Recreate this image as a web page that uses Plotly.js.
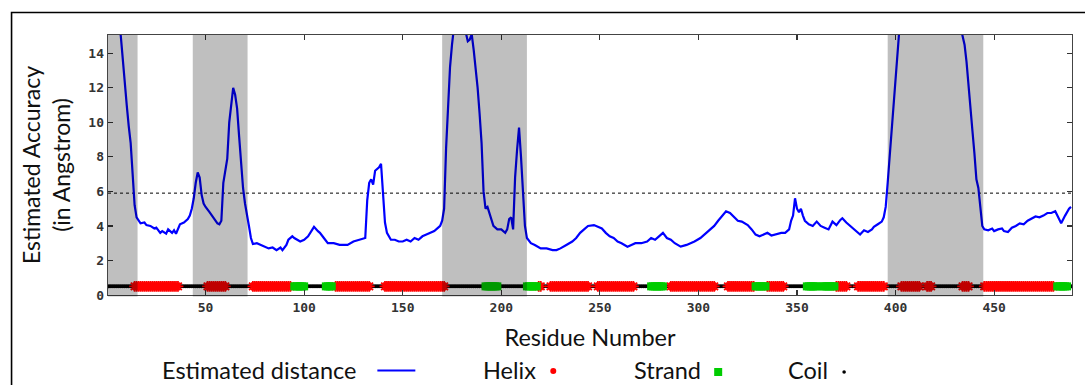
<!DOCTYPE html>
<html>
<head>
<meta charset="utf-8">
<script src="https://cdn.plot.ly/plotly-3.0.1.min.js"></script>
<style>
  html, body { margin: 0; padding: 0; background: #fff; }
  #chart { width: 1085px; height: 385px; }
</style>
</head>
<body>
<div id="chart"></div>
<script>
// ---------- DATA ----------
// Estimated distance (Angstrom) by residue number
const residueNumber = [1,3,5,7,8,9,10,11,12,13,14,15,16,17,19,20,22,24,25,27,28,30,31,33,34,35,37,39,41,42,43,44,45,46,47,48,49,50,52,54,56,57,58,59,60,61,62,63,64,65,66,67,68,69,70,71,72,73,74,76,78,80,82,84,86,88,89,91,92,94,95,98,100,102,105,107,108,110,112,115,118,122,125,128,131,132,133,134,135,136,138,139,140,141,142,144,146,148,150,152,154,156,158,160,162,164,166,168,169,170,171,172,173,174,175,176,178,180,182,183,184,185,186,187,188,189,190,191,192,193,194,195,196,198,200,202,203,204,205,206,207,208,209,210,211,212,213,215,217,220,223,226,228,230,233,236,238,240,242,244,247,249,251,253,255,257,259,261,264,266,268,271,274,276,278,280,282,284,286,288,291,294,296,298,301,303,305,308,310,312,314,316,318,320,322,325,327,329,331,333,335,337,339,342,344,346,347,348,349,350,351,352,353,354,356,358,360,362,364,366,368,370,372,373,375,377,379,381,382,384,386,388,389,391,393,394,395,396,397,398,399,400,401,402,405,410,418,425,430,433,434,435,436,437,438,439,440,441,442,443,444,445,447,449,450,452,454,455,457,459,461,463,465,467,469,471,473,475,477,479,481,482,484,486,488,489];
const estimatedDistance = [20,18,16.5,15,13.5,12.3,11,9.8,8.8,7,5.2,4.5,4.3,4.15,4.2,4.05,4.0,3.85,3.9,3.6,3.7,3.55,3.8,3.6,3.75,3.55,4.1,4.2,4.4,4.6,5.0,5.6,6.5,7.1,6.8,5.8,5.3,5.1,4.8,4.5,4.15,4.1,4.3,6.5,7.3,7.9,10,11,12.0,11.6,10.8,9.2,7.5,6.2,5.3,4.5,4.0,3.3,2.95,3.0,2.9,2.8,2.7,2.75,2.6,2.75,2.6,2.9,3.2,3.4,3.3,3.1,3.2,3.4,3.95,3.7,3.6,3.3,3.0,3.0,2.9,2.9,3.1,3.2,3.3,5.5,6.5,6.7,6.4,7.2,7.4,7.6,5.7,4.2,3.6,3.2,3.2,3.1,3.1,3.2,3.1,3.3,3.2,3.4,3.5,3.6,3.7,3.9,4.0,4.3,5.0,8.5,11.3,13.2,14.5,15.5,16,16,15.2,14.7,14.8,15.1,14.2,13.2,12.0,10.5,8.8,6.0,5.0,5.1,4.7,4.4,4.0,3.8,3.8,3.6,3.8,4.4,4.5,3.8,6.8,8.4,9.7,8.0,6.0,4.0,3.3,3.0,2.9,2.7,2.7,2.6,2.6,2.7,2.9,3.1,3.3,3.6,3.8,4.0,4.05,3.95,3.85,3.6,3.4,3.3,3.1,3.0,2.8,2.9,3.0,3.0,3.1,3.3,3.2,3.4,3.6,3.3,3.2,3.0,2.8,2.9,3.0,3.1,3.3,3.5,3.7,4.0,4.3,4.6,4.85,4.75,4.5,4.3,4.25,4.05,3.8,3.5,3.4,3.5,3.6,3.45,3.5,3.6,3.6,3.8,4.3,4.6,5.6,5.0,4.8,5.0,4.6,4.3,4.1,4.0,4.25,4.0,3.9,3.8,4.25,4.05,4.35,4.45,4.2,4.0,3.85,3.6,3.5,3.75,3.65,3.8,3.95,4.1,4.25,4.5,5.1,6.5,8.0,10,11.3,13.0,14.4,15.5,18,21,22,20,17,15.5,15.0,14.5,13.5,12.0,10.8,9.5,8.2,6.7,6.2,5.0,4.0,3.8,3.75,3.85,3.7,3.8,3.85,3.7,3.65,3.9,4.0,4.15,4.1,4.3,4.45,4.55,4.5,4.6,4.75,4.75,4.85,4.6,4.15,4.6,5.0,5.1];

// Secondary structure segments [first residue, last residue]
const helixSegments  = [[14,36],[51,60],[74,93],[116,133],[141,171],[219,220],[225,244],[249,267],[286,308],[315,328],[335,343],[370,375],[381,394],[403,412],[416,418],[434,437],[445,480]];
const strandSegments = [[95,100],[111,114],[192,198],[213,218],[276,282],[329,334],[355,360],[363,369],[482,487]];
const coilSegments   = [[1,13],[37,50],[61,73],[94,94],[101,110],[115,115],[134,140],[172,191],[199,212],[221,224],[245,248],[268,275],[283,285],[309,314],[344,354],[361,362],[376,380],[395,402],[413,415],[419,433],[438,444],[481,481],[488,489]];
const trackLevel = 0.5;

// Low-accuracy (shaded) regions [start, end]
const shadedRegions = [[0.5,15.5],[43.5,71.3],[170,213],[396,444.5]];
const thresholdValue = 5.9;

const xTickVals = [50,100,150,200,250,300,350,400,450];
const yTickVals = [0,2,4,6,8,10,12,14];

const legendLabels = ['Estimated distance','Helix','Strand','Coil'];

// ---------- BUILD ----------
function expand(segs, withGaps) {
  const xs = [], ys = [];
  segs.forEach(([a,b]) => {
    for (let r = a; r <= b; r++) { xs.push(r); ys.push(trackLevel); }
    if (withGaps) { xs.push(null); ys.push(null); }
  });
  return {xs, ys};
}
const helix = expand(helixSegments, false);
const strand = expand(strandSegments, false);
const coil = expand(coilSegments, true);

const traces = [
  {x: residueNumber, y: estimatedDistance, type:'scatter', mode:'lines', name: legendLabels[0],
   line:{color:'#0000ff', width:2.2}, cliponaxis:true, hoverinfo:'skip'},
  {x: coil.xs, y: coil.ys, type:'scatter', mode:'lines+markers', name: legendLabels[3],
   line:{color:'#000', width:1.6}, marker:{symbol:'circle', size:4, color:'#000'}, connectgaps:false},
  {x: helix.xs, y: helix.ys, type:'scatter', mode:'markers', name: legendLabels[1],
   marker:{symbol:'asterisk-open', size:9, color:'#ff0000', line:{color:'#ff0000', width:1.8}}},
  {x: strand.xs, y: strand.ys, type:'scatter', mode:'markers', name: legendLabels[2],
   marker:{symbol:'square', size:8, color:'#00cc00', line:{width:0}}}
];

const shapes = [];
shadedRegions.forEach(([a,b]) => {
  shapes.push({type:'rect', xref:'x', yref:'paper', x0:a, x1:b, y0:-0.006, y1:1,
    fillcolor:'rgba(0,0,0,0.25)', line:{width:0}, layer:'above'});
});
shapes.push({type:'line', xref:'paper', yref:'y', x0:0, x1:1, y0:thresholdValue, y1:thresholdValue,
  line:{color:'#000', width:1, dash:'dot'}, layer:'below'});
// outer frame
const PW = 964.5, PH = 260, L = 107.5, B = 295;
const px = v => (v - L) / PW, py = v => (B - v) / PH;
shapes.push({type:'rect', xref:'paper', yref:'paper', x0:px(11), x1:px(1100), y0:py(12.5), y1:py(420),
  line:{color:'#000', width:1.6}, fillcolor:'rgba(0,0,0,0)', layer:'above'});
// legend swatches
const legY = py(370);
shapes.push({type:'line', xref:'paper', yref:'paper', x0:px(377), x1:px(415), y0:py(370.5), y1:py(370.5),
  line:{color:'#0000ff', width:2}});
shapes.push({type:'circle', xref:'paper', yref:'paper', xsizemode:'pixel', ysizemode:'pixel',
  xanchor:px(553), yanchor:py(371), x0:-3, x1:3, y0:-3, y1:3, fillcolor:'#ff0000', line:{width:0}});
shapes.push({type:'rect', xref:'paper', yref:'paper', xsizemode:'pixel', ysizemode:'pixel',
  xanchor:px(718), yanchor:py(372), x0:-4, x1:4, y0:-4, y1:4, fillcolor:'#00cc00', line:{width:0}});
shapes.push({type:'circle', xref:'paper', yref:'paper', xsizemode:'pixel', ysizemode:'pixel',
  xanchor:px(844), yanchor:py(372), x0:-1.8, x1:1.8, y0:-1.8, y1:1.8, fillcolor:'#000', line:{width:0}});

const textFont = {family:'Lato, "Open Sans", sans-serif', size:23.5, color:'#111'};
const annotations = [
  {text:legendLabels[0], x:px(160), y:legY, xanchor:'left', yanchor:'middle'},
  {text:legendLabels[1], x:px(481), y:legY, xanchor:'left', yanchor:'middle'},
  {text:legendLabels[2], x:px(632), y:legY, xanchor:'left', yanchor:'middle'},
  {text:legendLabels[3], x:px(786), y:legY, xanchor:'left', yanchor:'middle'}
].map(a => Object.assign(a, {xref:'paper', yref:'paper', showarrow:false, font:textFont}));

const tickFont = {family:'"DejaVu Sans Mono", monospace', size:13, weight:'bold', color:'#333'};
const axisCommon = {ticks:'inside', ticklen:5, tickwidth:1.2, tickcolor:'#333', mirror:'ticks',
  showline:true, linecolor:'#444', linewidth:1.4, showgrid:false, zeroline:false, tickfont:tickFont, fixedrange:true};

const layout = {
  width:1085, height:385,
  margin:{l:107.5, r:13, t:35, b:90, pad:0},
  paper_bgcolor:'#fff', plot_bgcolor:'#fff',
  showlegend:false,
  xaxis: Object.assign({}, axisCommon, {range:[0.5,489.5], tickmode:'array', tickvals:xTickVals,
    title:{text:'Residue Number', font:textFont, standoff:15}}),
  yaxis: Object.assign({}, axisCommon, {range:[0,15.06], tickmode:'array', tickvals:yTickVals,
    title:{text:'Estimated Accuracy<br>(in Angstrom)', font:Object.assign({}, textFont, {size:23}), standoff:11}}),
  shapes, annotations
};

Plotly.newPlot('chart', traces, layout, {staticPlot:true, displayModeBar:false});
</script>
</body>
</html>
